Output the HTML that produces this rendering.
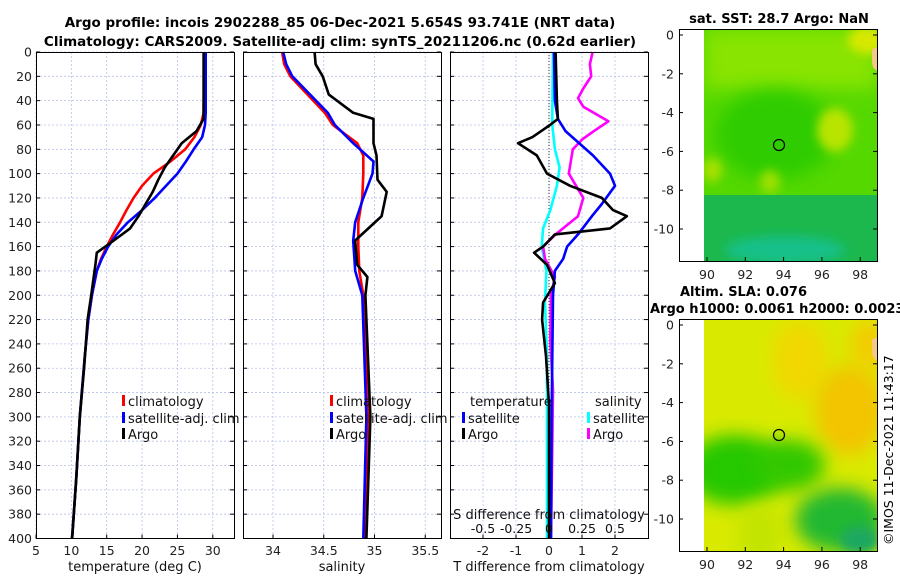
<!DOCTYPE html>
<html><head><meta charset="utf-8"><style>
body{margin:0;background:#fff;}
svg{display:block;font-family:"DejaVu Sans","Liberation Sans",sans-serif;}
</style></head><body>
<svg id="fig" width="900" height="580" viewBox="0 0 900 580" xmlns="http://www.w3.org/2000/svg">
<defs>
<filter id="blur8" x="-50%" y="-50%" width="200%" height="200%"><feGaussianBlur stdDeviation="9"/></filter>
<filter id="blur5" x="-50%" y="-50%" width="200%" height="200%"><feGaussianBlur stdDeviation="5"/></filter>
<clipPath id="clipSST"><rect x="704" y="29" width="173" height="232"/></clipPath>
<clipPath id="clipSLA"><rect x="704" y="319" width="173" height="232"/></clipPath>
</defs>
<text x="340" y="27" text-anchor="middle" font-weight="bold" font-size="13.5">Argo profile: incois 2902288_85 06-Dec-2021 5.654S 93.741E (NRT data)</text>
<text x="340" y="46" text-anchor="middle" font-weight="bold" font-size="13.5">Climatology: CARS2009. Satellite-adj clim: synTS_20211206.nc (0.62d earlier)</text>

<!-- SST map -->
<g>
<g clip-path="url(#clipSST)">
<rect x="704" y="29" width="173" height="232" fill="#55d800"/>
<rect x="704" y="29" width="173" height="60" fill="#88e400" filter="url(#blur8)"/>
<ellipse cx="775" cy="135" rx="60" ry="45" fill="#2fcc00" filter="url(#blur8)"/>
<ellipse cx="835" cy="130" rx="18" ry="22" fill="#b8e400" filter="url(#blur5)"/>
<ellipse cx="868" cy="40" rx="20" ry="14" fill="#d8e800" filter="url(#blur5)"/>
<ellipse cx="712" cy="170" rx="10" ry="12" fill="#a8e000" filter="url(#blur5)"/>
<ellipse cx="770" cy="182" rx="10" ry="12" fill="#9ee000" filter="url(#blur5)"/>
<rect x="704" y="195" width="173" height="66" fill="#1cb84e"/>
<ellipse cx="785" cy="250" rx="60" ry="14" fill="#12c088" filter="url(#blur5)"/>
<path d="M872,50 q6,-6 8,4 l0,16 q-8,2 -8,-10z" fill="#f3c98a"/>
</g>
<rect x="679.5" y="29.5" width="198" height="232" fill="none" stroke="#000"/>
<circle cx="779" cy="145" r="5.5" fill="none" stroke="#000" stroke-width="1.2"/>
<text x="779" y="23" text-anchor="middle" font-weight="bold" font-size="13">sat. SST: 28.7 Argo: NaN</text>
</g>

<!-- SLA map -->
<g>
<g clip-path="url(#clipSLA)">
<rect x="704" y="319" width="173" height="232" fill="#d9ea00"/>
<ellipse cx="800" cy="360" rx="28" ry="40" fill="#f0d800" filter="url(#blur8)"/>
<ellipse cx="850" cy="410" rx="35" ry="45" fill="#f3c400" filter="url(#blur8)"/>
<ellipse cx="870" cy="345" rx="20" ry="25" fill="#f3cc00" filter="url(#blur8)"/>
<ellipse cx="735" cy="470" rx="50" ry="35" fill="#28c800" filter="url(#blur8)"/>
<ellipse cx="790" cy="465" rx="35" ry="25" fill="#30c800" filter="url(#blur8)"/>
<ellipse cx="760" cy="535" rx="22" ry="30" fill="#c2e400" filter="url(#blur8)"/>
<ellipse cx="840" cy="520" rx="45" ry="32" fill="#22b830" filter="url(#blur8)"/>
<ellipse cx="860" cy="540" rx="20" ry="14" fill="#1aa860" filter="url(#blur5)"/>
<path d="M872,340 q6,-6 8,4 l0,16 q-8,2 -8,-10z" fill="#f3c98a"/>
</g>
<rect x="679.5" y="319.5" width="198" height="232" fill="none" stroke="#000"/>
<circle cx="779" cy="435" r="5.5" fill="none" stroke="#000" stroke-width="1.2"/>
<text x="680" y="296" font-weight="bold" font-size="13">Altim. SLA: 0.076</text>
<text x="650" y="313" font-weight="bold" font-size="13">Argo h1000: 0.0061 h2000: 0.0023</text>
</g>
<text transform="translate(893,545) rotate(-90)" font-size="12.5">©IMOS 11-Dec-2021 11:43:17</text>
<g id="plots"></g>
</svg>
<script>
// ---- temperature panel data ----
const climTDepth=[0,50,60,70,80,90,100,110,120,130,140,150,160,170,180,200,220,250,300,350,400];
const climTVal=[28.8,28.7,28.3,27.4,26.1,24,21.6,20,18.8,17.8,16.9,15.9,15,14.2,13.6,12.9,12.4,11.9,11.2,10.7,10.1];
const satTDepth=[0,50,60,70,80,90,100,110,120,130,140,150,160,170,180,200,220,250,300,350,400];
const satTVal=[29,29,28.9,28.5,27.3,26.2,25,23.4,21.8,20,18,16.4,15.2,14.3,13.6,12.9,12.4,11.9,11.2,10.7,10.1];
const argoTDepth=[0,55,65,75,85,95,105,115,125,135,145,155,165,175,200,220,260,300,350,400];
const argoTVal=[28.7,28.7,27.7,25.6,24.4,23.2,22.3,21.5,20.5,19.5,18.3,16,13.6,13.4,12.8,12.3,11.8,11.2,10.7,10.1];
// ---- salinity panel data ----
const climSDepth=[0,10,20,50,60,75,85,100,120,140,160,180,200,300,400];
const climSVal=[34.09,34.11,34.17,34.51,34.59,34.83,34.89,34.89,34.88,34.84,34.84,34.85,34.89,34.94,34.91];
const satSDepth=[0,10,20,50,60,75,90,100,120,140,155,180,200,300,400];
const satSVal=[34.1,34.13,34.19,34.54,34.61,34.79,34.99,34.98,34.89,34.81,34.79,34.81,34.88,34.92,34.89];
const argoSDepth=[0,10,20,35,50,55,75,85,105,115,135,155,175,185,200,300,400];
const argoSVal=[34.41,34.42,34.49,34.55,34.79,34.99,34.99,35.02,35.03,35.12,35.07,34.81,34.83,34.93,34.91,34.96,34.92];
// ---- difference panel data ----
const dSatTDepth=[0,40,55,65,85,100,110,125,135,150,160,170,180,200,250,300,400];
const dSatTVal=[0.15,0.18,0.27,0.5,1.33,1.85,2.0,1.6,1.3,0.88,0.55,0.43,0.18,0.12,0.1,0.08,0.06];
const dArgoTDepth=[0,40,55,60,70,75,85,100,110,120,130,135,145,150,160,165,175,190,206,220,250,290,400];
const dArgoTVal=[0.2,0.24,0.27,0.03,-0.5,-0.94,-0.37,-0.06,0.64,1.6,1.94,2.36,1.85,0.18,-0.18,-0.45,-0.06,0.18,-0.18,-0.21,-0.09,0,0];
const dSatSDepth=[0,50,60,80,95,110,130,145,160,180,206,250,300,400];
const dSatSVal=[0.03,0.025,0.025,0.045,0.08,0.06,0.01,-0.045,-0.055,-0.02,-0.03,-0.015,-0.015,-0.015];
const dArgoSDepth=[0,10,20,30,38,45,57,65,72,80,100,120,135,150,160,170,185,200,237,278,400];
const dArgoSVal=[0.33,0.31,0.32,0.26,0.22,0.26,0.45,0.34,0.25,0.18,0.15,0.26,0.22,0.05,-0.045,-0.03,0.045,0.015,0.01,0.03,0.015];
// ---- ticks ----
const depthTicks=[0,20,40,60,80,100,120,140,160,180,200,220,240,260,280,300,320,340,360,380,400];
const tempTicks=[5,10,15,20,25,30];
const salTicks=[34,34.5,35,35.5];
const dTTicks=[-2,-1,0,1,2];
const dSTicks=[-0.5,-0.25,0,0.25,0.5];
const dSTickLabels=["-0.5","-0.25","0","0.25","0.5"];
const lonTicks=[90,92,94,96,98];
const latTicks=[0,-2,-4,-6,-8,-10];

const NS="http://www.w3.org/2000/svg";
const root=document.getElementById('plots');
function mk(tag,attrs,parent){const e=document.createElementNS(NS,tag);for(const k in attrs)e.setAttribute(k,attrs[k]);(parent||root).appendChild(e);return e;}
const Y0=52,Y1=538.5;
function yD(d){return Y0+(Y1-Y0)*d/400;}
function panel(x0,x1,xmin,xmax,name){
  const g=mk('g',{});
  
  
  return {g,x0,x1,sx:v=>x0+(x1-x0)*(v-xmin)/(xmax-xmin)};
}
function grid(p,xticks,showY){
  for(const d of depthTicks){
    const y=yD(d);
    const l=mk('line',{x1:p.x0,x2:p.x1,y1:y,y2:y,stroke:'#b8c0e8','stroke-width':0.8,'stroke-dasharray':'2,2'},p.g);
    
    
    mk('line',{x1:p.x0,x2:p.x0+4,y1:y,y2:y,stroke:'#000'},p.g);
    mk('line',{x1:p.x1-4,x2:p.x1,y1:y,y2:y,stroke:'#000'},p.g);
    if(showY){const t=mk('text',{x:p.x0-4,y:y+4.5,'text-anchor':'end','font-size':12.5,fill:'#222'},p.g);t.textContent=d;
      
      }
  }
  for(const v of xticks){
    const x=p.sx(v);
    const l=mk('line',{x1:x,x2:x,y1:Y0,y2:Y1,stroke:'#b8c0e8','stroke-width':0.8,'stroke-dasharray':'2,2'},p.g);
    
    
    mk('line',{x1:x,x2:x,y1:Y1-4,y2:Y1,stroke:'#000'},p.g);
  }
}
function frame(p){
  const r=mk('rect',{x:p.x0+0.5,y:Y0+0.5,width:p.x1-p.x0,height:Y1-Y0-0.5,fill:'none',stroke:'#000','stroke-width':1},p.g);
  
  
}
function xlabels(p,ticks,labels,y,name){
  ticks.forEach((v,i)=>{const t=mk('text',{x:p.sx(v),y:y,'text-anchor':'middle','font-size':12.5,fill:'#222'},p.g);t.textContent=labels?labels[i]:v;
    
    });
}
function line(p,dep,val,color,name,w){
  const pts=dep.map((d,i)=>p.sx(val[i]).toFixed(1)+','+yD(d).toFixed(1)).join(' ');
  const e=mk('polyline',{points:pts,fill:'none',stroke:color,'stroke-width':w||2.6,'stroke-linejoin':'round'},p.g);
  
  
}
function legend(p,x,y,color,label){
  mk('rect',{x:x,y:y-6,width:3,height:11,fill:color},p.g);
  const t=mk('text',{x:x+6,y:y+5,'font-size':13,fill:'#111'},p.g);t.textContent=label;
  
  
}
function xtitle(p,x,text,name){const t=mk('text',{x:x,y:571,'text-anchor':'middle','font-size':13,fill:'#111'},p.g);t.textContent=text;
  
  }

// Temperature panel
const pT=panel(36,234,5,33,'temperature-panel');
grid(pT,tempTicks,true);
line(pT,climTDepth,climTVal,'#f00','climatology-temperature-line');
line(pT,satTDepth,satTVal,'#00f','satellite-temperature-line');
line(pT,argoTDepth,argoTVal,'#000','argo-temperature-line');
frame(pT);
xlabels(pT,tempTicks,null,555,'temperature-tick-label');
xtitle(pT,135,'temperature (deg C)','temperature-axis-title');
legend(pT,122,401,'#f00','climatology');
legend(pT,122,418,'#00f','satellite-adj. clim');
legend(pT,122,434,'#000','Argo');

// Salinity panel
const pS=panel(243,441,34-30/101.5,34-30/101.5+198/101.5,'salinity-panel');
grid(pS,salTicks,false);
line(pS,climSDepth,climSVal,'#f00','climatology-salinity-line');
line(pS,satSDepth,satSVal,'#00f','satellite-salinity-line');
line(pS,argoSDepth,argoSVal,'#000','argo-salinity-line');
frame(pS);
xlabels(pS,salTicks,null,555,'salinity-tick-label');
xtitle(pS,342,'salinity','salinity-axis-title');
legend(pS,330,401,'#f00','climatology');
legend(pS,330,418,'#00f','satellite-adj. clim');
legend(pS,330,434,'#000','Argo');

// Difference panel
const pD=panel(450,648,-3,3,'difference-panel');
const sS=v=>pD.sx(v*4);
grid(pD,dTTicks,false);
const zl=mk('line',{x1:pD.sx(0),x2:pD.sx(0),y1:Y0,y2:Y1,stroke:'#333','stroke-width':1,'stroke-dasharray':'1,2'},pD.g);


line(pD,dSatSDepth,dSatSVal.map(v=>v*4),'#0ff','satellite-salinity-diff-line');
line(pD,dArgoSDepth,dArgoSVal.map(v=>v*4),'#f0f','argo-salinity-diff-line');
line(pD,dSatTDepth,dSatTVal,'#00f','satellite-temperature-diff-line');
line(pD,dArgoTDepth,dArgoTVal,'#000','argo-temperature-diff-line');
frame(pD);
xlabels(pD,dTTicks,null,555,'t-diff-tick-label');
dSTicks.forEach((v,i)=>{const t=mk('text',{x:sS(v),y:533,'text-anchor':'middle','font-size':12.5,fill:'#111'},pD.g);t.textContent=dSTickLabels[i];
  
  });
{const t=mk('text',{x:549,y:519,'text-anchor':'middle','font-size':13,fill:'#111'},pD.g);t.textContent='S difference from climatology';
  
  }
xtitle(pD,549,'T difference from climatology','t-diff-axis-title');
{const t=mk('text',{x:470,y:406,'font-size':13,fill:'#111'},pD.g);t.textContent='temperature';
  
  }
{const t=mk('text',{x:595,y:406,'font-size':13,fill:'#111'},pD.g);t.textContent='salinity';
  
  }
legend(pD,462,418,'#00f','satellite');
legend(pD,462,434,'#000','Argo');
legend(pD,587,418,'#0ff','satellite');
legend(pD,587,434,'#f0f','Argo');

// map axes ticks
function mapAxes(top,lat0y,name){
  const g=mk('g',{});
  
  
  const lx=v=>707+(v-90)*19.15;
  const ly=v=>lat0y-v*19.4;
  for(const v of lonTicks){const x=lx(v);
    mk('line',{x1:x,x2:x,y1:top+232,y2:top+228,stroke:'#000'},g);
    const t=mk('text',{x:x,y:top+250,'text-anchor':'middle','font-size':12.5,fill:'#222'},g);t.textContent=v;
    
    }
  for(const v of latTicks){const y=ly(v);
    mk('line',{x1:679,x2:683,y1:y,y2:y,stroke:'#000'},g);
    mk('line',{x1:873,x2:877,y1:y,y2:y,stroke:'#000'},g);
    const t=mk('text',{x:674,y:y+4.5,'text-anchor':'end','font-size':12.5,fill:'#222'},g);t.textContent=v;
    
    }
}
mapAxes(29,35,'sst-map-axes');
mapAxes(319,325,'sla-map-axes');
</script>
</body></html>
